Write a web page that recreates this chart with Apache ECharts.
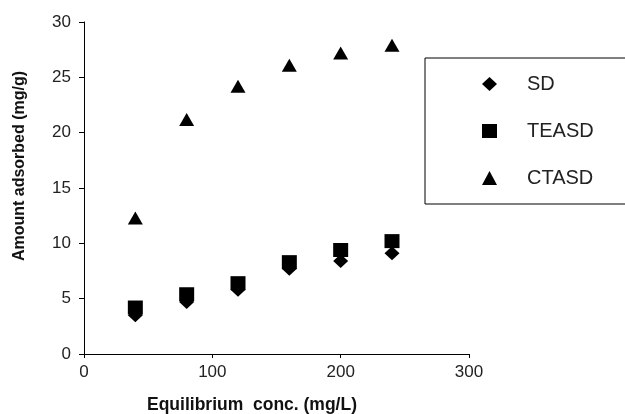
<!DOCTYPE html>
<html>
<head>
<meta charset="utf-8">
<script src="https://cdn.jsdelivr.net/npm/echarts@6/dist/echarts.min.js"></script>
<style>
  html, body { margin: 0; padding: 0; background: #fff; }
  #chart { width: 625px; height: 414px; }
</style>
</head>
<body>
<div id="chart"></div>
<script>
// datos
const conc = [40, 80, 120, 160, 200, 240];
const sd = [3.5, 4.7, 5.8, 7.7, 8.4, 9.1];
const teasd = [4.2, 5.4, 6.4, 8.3, 9.4, 10.2];
const ctasd = [12.3, 21.2, 24.2, 26.1, 27.2, 27.9];
const seriesNames = ['SD', 'TEASD', 'CTASD'];

const toPoints = (ys) => conc.map((x, i) => [x, ys[i]]);

const font = '"Liberation Sans", Arial, sans-serif';

const getOption = () => {
  return {
    backgroundColor: '#fff',
    animation: false,
    textStyle: { fontFamily: font },
    grid: { left: 84, right: 156, top: 22, bottom: 60, containLabel: false, outerBoundsMode: 'none' },
    legend: {
      orient: 'vertical',
      left: 425,
      top: 58,
      data: seriesNames,
      borderColor: '#000',
      borderWidth: 1,
      borderRadius: 0,
      padding: [16, 120, 16, 57],
      itemWidth: 15,
      itemHeight: 14,
      itemGap: 27,
      textStyle: {
        fontFamily: font,
        fontSize: 20,
        lineHeight: 20,
        color: '#222',
        padding: [0, 0, 0, 25]
      }
    },
    xAxis: {
      type: 'value',
      min: 0,
      max: 300,
      interval: 100,
      name: 'Equilibrium  conc. (mg/L)',
      nameLocation: 'middle',
      nameGap: 42,
      nameTextStyle: {
        fontFamily: font,
        fontSize: 17.5,
        fontWeight: 'bold',
        color: '#111',
        padding: [0, 49, 0, 0]
      },
      splitLine: { show: false },
      axisLine: { lineStyle: { color: '#000', width: 1 } },
      axisTick: { length: 4, lineStyle: { color: '#000' } },
      axisLabel: { fontFamily: font, fontSize: 17, color: '#222', margin: 10 }
    },
    yAxis: {
      type: 'value',
      min: 0,
      max: 30,
      interval: 5,
      name: 'Amount adsorbed (mg/g)',
      nameLocation: 'middle',
      nameGap: 56,
      nameTextStyle: {
        fontFamily: font,
        fontSize: 16,
        fontWeight: 'bold',
        color: '#111',
        padding: [0, 0, 0, 44]
      },
      splitLine: { show: false },
      axisLine: { show: true, lineStyle: { color: '#000', width: 1 } },
      axisTick: { show: true, length: 5, lineStyle: { color: '#000' } },
      axisLabel: { fontFamily: font, fontSize: 17, color: '#222', margin: 13 }
    },
    series: [
      {
        name: seriesNames[0],
        type: 'scatter',
        symbol: 'diamond',
        symbolSize: [15, 14],
        itemStyle: { color: '#000', opacity: 1 },
        data: toPoints(sd)
      },
      {
        name: seriesNames[1],
        type: 'scatter',
        symbol: 'rect',
        symbolSize: [15, 14],
        itemStyle: { color: '#000', opacity: 1 },
        data: toPoints(teasd)
      },
      {
        name: seriesNames[2],
        type: 'scatter',
        symbol: 'triangle',
        symbolSize: [15, 13],
        itemStyle: { color: '#000', opacity: 1 },
        data: toPoints(ctasd)
      }
    ]
  };
};

const iniciarChart = () => {
  const chart = echarts.init(document.getElementById('chart'), null, { renderer: 'canvas' });
  chart.setOption(getOption());
};

window.addEventListener('load', () => {
  iniciarChart();
});
</script>
</body>
</html>
